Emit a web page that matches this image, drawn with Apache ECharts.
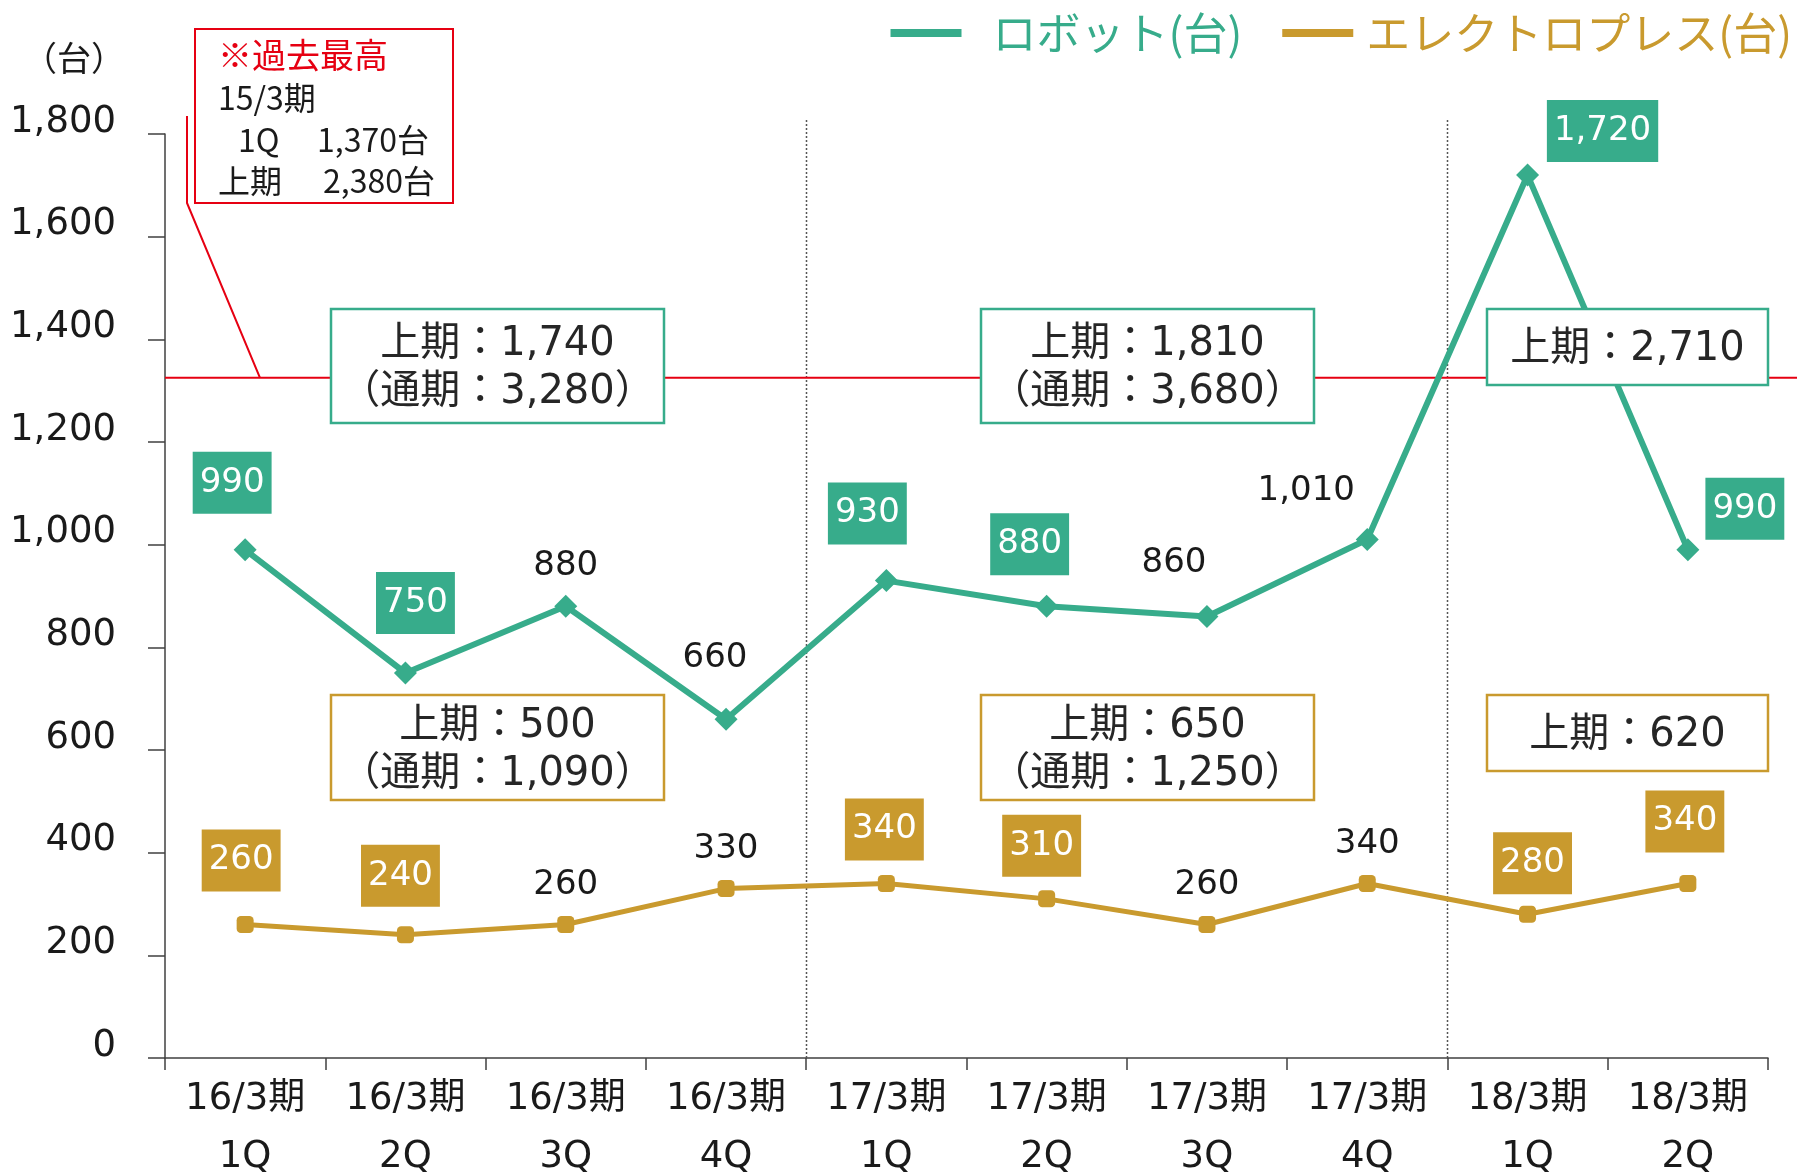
<!DOCTYPE html>
<html>
<head>
<meta charset="utf-8">
<script src="https://cdn.jsdelivr.net/npm/echarts@6/dist/echarts.min.js"></script>
<style>
html, body { margin: 0; padding: 0; background: #fff; }
#chart { width: 1812px; height: 1174px; }
</style>
</head>
<body>
<div id="chart"></div>
<script>
// data
var periods = ['16/3期', '16/3期', '16/3期', '16/3期', '17/3期', '17/3期', '17/3期', '17/3期', '18/3期', '18/3期'];
var quarters = ['1Q', '2Q', '3Q', '4Q', '1Q', '2Q', '3Q', '4Q', '1Q', '2Q'];
var robotUnits = [990, 750, 880, 660, 930, 880, 860, 1010, 1720, 990];
var pressUnits = [260, 240, 260, 330, 340, 310, 260, 340, 280, 340];
var robotBoxed = [true, true, false, false, true, true, false, false, true, true];
var pressBoxed = [true, true, false, false, true, true, false, false, true, true];
var robotSummary = ['上期：1,740\n（通期：3,280）', '上期：1,810\n（通期：3,680）', '上期：2,710'];
var pressSummary = ['上期：500\n（通期：1,090）', '上期：650\n（通期：1,250）', '上期：620'];
var recordLevel = 1325;
var recordNote = ['※過去最高', '15/3期', '1Q', '1,370台', '上期', '2,380台'];
var yMin = 0, yMax = 1800, yStep = 200;

// label placement (centre offset from the point)
var robotLabelOffsets = [[-13, -67], [10, -70], [0, -40], [-11, -61], [-19, -67], [-17, -62], [-33, -53], [-61, -48], [75, -44], [57, -41]];
var pressLabelOffsets = [[-4, -64], [-5, -59], [0, -39], [0, -39], [-2, -54], [-5, -53], [0, -39], [0, -39], [5, -51], [-3, -62]];

var GREEN = '#37AC8B';
var GOLD = '#C99A2E';
var RED = '#E60012';
var FONT = '"DejaVu Sans", "Noto Sans CJK JP", sans-serif';
var JP_FONT = '"Noto Sans CJK JP", sans-serif';

var categories = periods.map(function (p, i) { return p + '\n' + quarters[i]; });

function fmt(v) {
	return Number(v).toLocaleString('en-US');
}

function buildData(values, boxed, offsets, color) {
	return values.map(function (v, i) {
		var label = { offset: offsets[i] };
		if (boxed[i]) {
			label.backgroundColor = color;
			label.color = '#fff';
			label.padding = [12, 7, 12, 7];
		}
		return { value: v, label: label };
	});
}

var chart = echarts.init(document.getElementById('chart'));

var option = {
	animation: false,
	backgroundColor: '#fff',
	grid: { left: 165, right: 44, top: 134, bottom: 116, outerBoundsMode: 'none', containLabel: false },
	legend: {
		right: 15,
		top: 6,
		icon: 'rect',
		itemWidth: 71,
		itemHeight: 8,
		itemGap: 40,
		textStyle: { fontSize: 44, fontFamily: JP_FONT },
		data: [
			{ name: 'ロボット(台)', textStyle: { color: GREEN, padding: [0, 0, 0, 26] } },
			{ name: 'エレクトロプレス(台)', textStyle: { color: GOLD, padding: [0, 0, 0, 8] } }
		]
	},
	xAxis: {
		type: 'category',
		data: categories,
		boundaryGap: true,
		axisLine: { lineStyle: { color: '#404040', width: 1.5 } },
		axisTick: { show: true, length: 12, lineStyle: { color: '#404040', width: 1.5 } },
		axisLabel: {
			interval: 0,
			margin: 12,
			fontSize: 37,
			lineHeight: 58,
			fontFamily: FONT,
			color: '#1a1a1a'
		}
	},
	yAxis: {
		type: 'value',
		min: yMin,
		max: yMax,
		interval: yStep,
		name: '（台）',
		nameLocation: 'end',
		nameGap: 76,
		nameTextStyle: {
			fontSize: 34,
			fontFamily: JP_FONT,
			color: '#1a1a1a',
			align: 'center',
			verticalAlign: 'middle',
			padding: [0, 182, 0, 0]
		},
		axisLine: { show: true, lineStyle: { color: '#404040', width: 1.5 } },
		axisTick: { show: true, length: 17, lineStyle: { color: '#404040', width: 1.5 } },
		splitLine: { show: false },
		axisLabel: {
			margin: 49,
			fontSize: 37,
			lineHeight: 24,
			verticalAlign: 'bottom',
			fontFamily: FONT,
			color: '#1a1a1a',
			formatter: fmt
		}
	},
	series: [
		{
			name: 'ロボット(台)',
			type: 'line',
			data: buildData(robotUnits, robotBoxed, robotLabelOffsets, GREEN),
			symbol: 'diamond',
			symbolSize: 23,
			lineStyle: { color: GREEN, width: 6 },
			itemStyle: { color: GREEN },
			z: 3,
			label: {
				show: true,
				position: 'inside',
				fontSize: 34,
				lineHeight: 38,
				fontFamily: FONT,
				color: '#1a1a1a',
				formatter: function (p) { return fmt(p.value); }
			}
		},
		{
			name: 'エレクトロプレス(台)',
			type: 'line',
			data: buildData(pressUnits, pressBoxed, pressLabelOffsets, GOLD),
			symbol: 'roundRect',
			symbolSize: 17,
			lineStyle: { color: GOLD, width: 5 },
			itemStyle: { color: GOLD },
			z: 3,
			label: {
				show: true,
				position: 'inside',
				fontSize: 34,
				lineHeight: 38,
				fontFamily: FONT,
				color: '#1a1a1a',
				formatter: function (p) { return fmt(p.value); }
			}
		}
	]
};

chart.setOption(option);

// annotations placed after the axes exist
var yRecord = chart.convertToPixel({ yAxisIndex: 0 }, recordLevel);
var yTop = chart.convertToPixel({ yAxisIndex: 0 }, yMax);
var yBottom = chart.convertToPixel({ yAxisIndex: 0 }, yMin);
function boundaryX(i) {
	return (chart.convertToPixel({ xAxisIndex: 0 }, i - 1) + chart.convertToPixel({ xAxisIndex: 0 }, i)) / 2;
}

var graphics = [];

// year separators
[4, 8].forEach(function (i) {
	var x = Math.round(boundaryX(i)) + 0.5;
	graphics.push({
		type: 'line', z: 1,
		shape: { x1: x, y1: yTop - 14, x2: x, y2: yBottom },
		style: { stroke: '#555', lineWidth: 1.5, lineDash: [2, 2] }
	});
});

// record level line and callout
graphics.push({
	type: 'line', z: 1,
	shape: { x1: 165, y1: yRecord, x2: 1797, y2: yRecord },
	style: { stroke: RED, lineWidth: 2 }
});
graphics.push({
	type: 'polyline', z: 1,
	shape: { points: [[187, 116], [187, 203], [260, yRecord]] },
	style: { stroke: RED, lineWidth: 2, fill: null }
});
graphics.push({
	type: 'rect', z: 5,
	shape: { x: 195, y: 29, width: 258, height: 174 },
	style: { fill: '#fff', stroke: RED, lineWidth: 2 }
});
var noteSpots = [[218, 55], [218, 98], [238, 140], [317, 140], [218, 181], [323, 181]];
recordNote.forEach(function (t, i) {
	graphics.push({
		type: 'text', z: 6,
		style: {
			text: t, x: noteSpots[i][0], y: noteSpots[i][1],
			align: 'left', verticalAlign: 'middle',
			fontSize: i === 0 ? 34 : 32, fontFamily: JP_FONT,
			fill: i === 0 ? RED : '#1a1a1a'
		}
	});
});

// half-year summary boxes
var summaryBoxes = [
	{ text: robotSummary[0], color: GREEN, rect: [331, 309, 333, 114] },
	{ text: robotSummary[1], color: GREEN, rect: [981, 309, 333, 114] },
	{ text: robotSummary[2], color: GREEN, rect: [1487, 309, 281, 76] },
	{ text: pressSummary[0], color: GOLD, rect: [331, 695, 333, 105] },
	{ text: pressSummary[1], color: GOLD, rect: [981, 695, 333, 105] },
	{ text: pressSummary[2], color: GOLD, rect: [1487, 695, 281, 76] }
];
summaryBoxes.forEach(function (b) {
	var r = b.rect;
	graphics.push({
		type: 'rect', z: 10,
		shape: { x: r[0], y: r[1], width: r[2], height: r[3] },
		style: { fill: '#fff', stroke: b.color, lineWidth: 2.5 }
	});
	graphics.push({
		type: 'text', z: 11,
		style: {
			text: b.text, x: r[0] + r[2] / 2, y: r[1] + r[3] / 2 + 3,
			align: 'center', verticalAlign: 'middle',
			fontSize: 40, lineHeight: 48, fontFamily: FONT,
			fill: '#262626'
		}
	});
});

chart.setOption({ graphic: graphics });
</script>
</body>
</html>
